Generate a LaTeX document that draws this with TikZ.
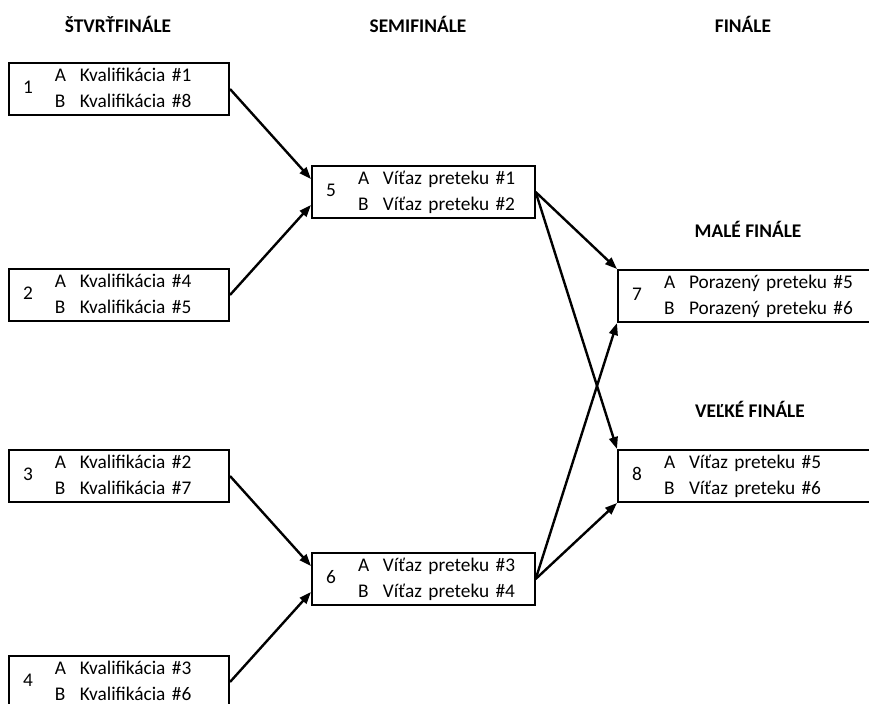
\documentclass[tikz,border=0pt]{standalone}
\usepackage{fontspec}
\setmainfont{Carlito}
\usepackage{tikz}
\usetikzlibrary{arrows.meta}
\newlength{\px}
\setlength{\px}{0.75pt}
\newcommand{\heat}[3]{\hspace*{14\px}\makebox[32\px][l]{#1}\begin{tabular}[c]{@{}p{25\px}@{}l@{}}A&#2\\B&#3\end{tabular}}

\begin{document}
\begin{tikzpicture}[x=0.75pt,y=-0.75pt,font=\fontsize{14.5}{19.5}\selectfont,
  heat/.style={draw,line width=1.5pt,anchor=north west,inner sep=0pt,minimum height=39pt,text width=#1,align=left},
  heat/.default=165pt,
  stage/.style={font=\fontsize{14.5}{19.5}\selectfont\bfseries,anchor=base},
  adv/.style={line width=1.8pt,-{Triangle[length=9pt,width=6.5pt]}}]
\useasboundingbox (0,0) rectangle (869,704);
\clip (0,0) rectangle (869,704);

\node[stage] (hq) at (118,32) {ŠTVRŤFINÁLE};
\node[stage] (hs) at (418,32) {SEMIFINÁLE};
\node[stage] (hf) at (743,32) {FINÁLE};
\node[stage] (hm) at (748,237) {MALÉ FINÁLE};
\node[stage] (hv) at (750,417) {VEĽKÉ FINÁLE};

\foreach \n/\y/\a/\b in {1/62/1/8,2/268/4/5,3/449/2/7,4/655/3/6}
  \node[heat] (q\n) at (8,\y) {\heat{\n}{Kvalifikácia \#\a}{Kvalifikácia \#\b}};

\node[heat=167pt] (s5) at (311,165) {\heat{5}{Víťaz preteku \#1}{Víťaz preteku \#2}};
\node[heat=167pt] (s6) at (311,552) {\heat{6}{Víťaz preteku \#3}{Víťaz preteku \#4}};
\node[heat=210pt] (f7) at (617,269) {\heat{7}{Porazený preteku \#5}{Porazený preteku \#6}};
\node[heat=210pt] (f8) at (617,449) {\heat{8}{Víťaz preteku \#5}{Víťaz preteku \#6}};

\path (s5.west) +(0,-13) coordinate (s5a) +(0,13) coordinate (s5b);
\path (s6.west) +(0,-13) coordinate (s6a) +(0,13) coordinate (s6b);

\draw[adv] (q1.east) -- (s5a);
\draw[adv] (q2.east) -- (s5b);
\draw[adv] (q3.east) -- (s6a);
\draw[adv] (q4.east) -- (s6b);
\draw[adv] (s5.east) -- (f7.north west);
\draw[adv] (s5.east) -- (f8.north west);
\draw[adv] (s6.east) -- (f7.south west);
\draw[adv] (s6.east) -- (f8.south west);

\end{tikzpicture}
\end{document}
